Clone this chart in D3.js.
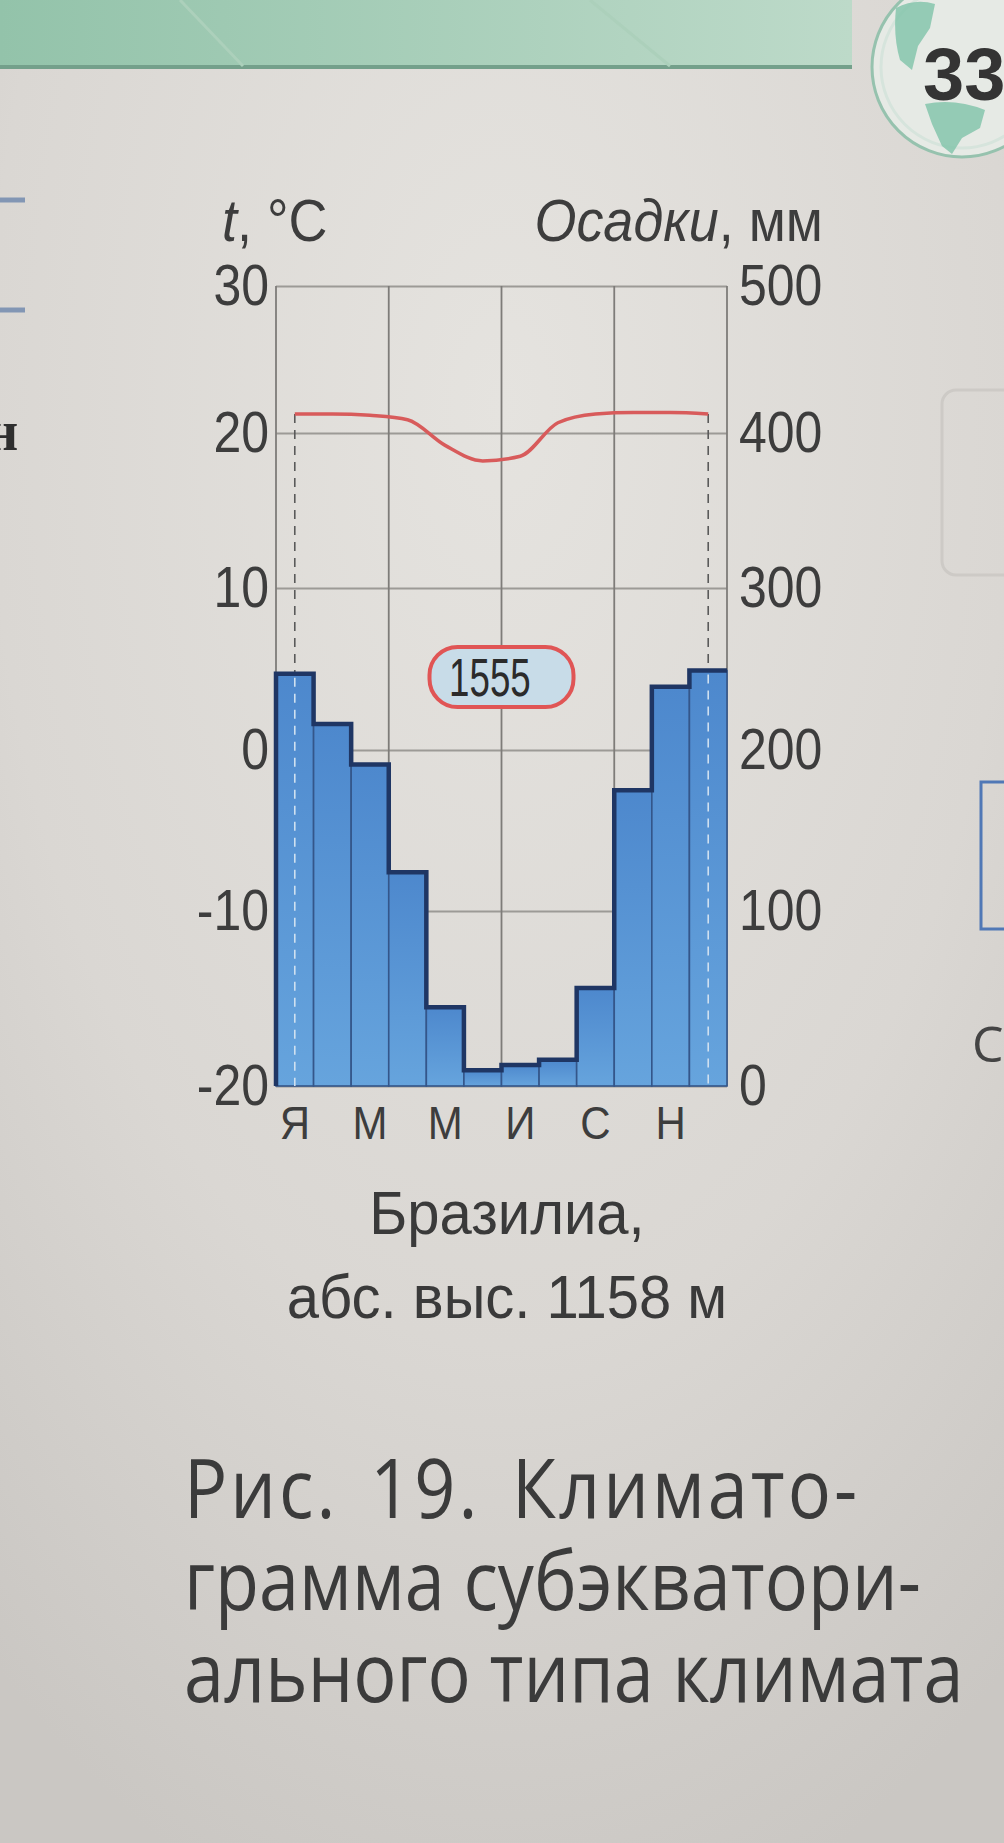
<!DOCTYPE html>
<meta charset="utf-8">
<head>
<script src="https://d3js.org/d3.v7.min.js"></script>
<style>
  body { margin: 0; background: #dcd9d4; }
  svg { display: block; }
  .tick text { font-family: "Liberation Sans", Arial, sans-serif; fill: #3d3d3d; }
</style>
</head>
<body>
<script>
"use strict";
// climatogram data, Brasilia
var months = ["Я", "Ф", "М", "А", "М", "И", "И", "А", "С", "О", "Н", "Д"];
var temperature = [21.3, 21.3, 21.2, 20.9, 19.2, 18.2, 18.5, 20.7, 21.3, 21.4, 21.4, 21.3];
var precipitation = [247, 216, 191, 124, 45, 9, 12, 15, 56, 175, 239, 249];
var tempTicks = [30, 20, 10, 0, -10, -20];
var precipTicks = [500, 400, 300, 200, 100, 0];
var annualTotal = 1555;
var station = ["Бразилиа,", "абс. выс. 1158 м"];
var caption = ["Рис. 19. Климато-", "грамма субэкватори-", "ального типа климата"];

var width = 1004, height = 1843;
var X0 = 276, X1 = 727;
// the photo is taken at an angle, so the grid rows are not evenly spaced
var rows = [286, 433, 588, 750, 911, 1086];
var Y0 = rows[0], Y1 = rows[rows.length - 1];

var svg = d3.select("body").append("svg")
    .attr("width", width)
    .attr("height", height);

var defs = svg.append("defs");
var pg = defs.append("radialGradient").attr("id", "paper")
    .attr("cx", "50%").attr("cy", "22%").attr("r", "85%");
pg.append("stop").attr("offset", "0%").attr("stop-color", "#e5e3df");
pg.append("stop").attr("offset", "60%").attr("stop-color", "#dad7d3");
pg.append("stop").attr("offset", "100%").attr("stop-color", "#cac7c3");

var bg = defs.append("linearGradient").attr("id", "barGrad")
    .attr("x1", 0).attr("y1", 0).attr("x2", 0).attr("y2", 1);
bg.append("stop").attr("offset", "0%").attr("stop-color", "#4d88cd");
bg.append("stop").attr("offset", "100%").attr("stop-color", "#66a4dd");

var hg = defs.append("linearGradient").attr("id", "band");
hg.append("stop").attr("offset", "0%").attr("stop-color", "#93c3aa");
hg.append("stop").attr("offset", "100%").attr("stop-color", "#bddac9");

// page
svg.append("rect").attr("width", width).attr("height", height).attr("fill", "url(#paper)");

// green header band
svg.append("rect").attr("x", 0).attr("y", 0).attr("width", 852).attr("height", 68)
    .attr("fill", "url(#band)");
svg.append("line").attr("x1", 0).attr("x2", 852).attr("y1", 67).attr("y2", 67)
    .attr("stroke", "#74a08b").attr("stroke-width", 4);
[[180, 243], [590, 670]].forEach(function(d) {
  svg.append("line").attr("x1", d[0]).attr("y1", 0).attr("x2", d[1]).attr("y2", 66)
      .attr("stroke", "#acd0bb").attr("stroke-width", 3);
});

// page number globe
var globe = svg.append("g");
globe.append("circle").attr("cx", 962).attr("cy", 67).attr("r", 90)
    .attr("fill", "#e6eae5").attr("stroke", "#96c2ae").attr("stroke-width", 3);
globe.append("circle").attr("cx", 962).attr("cy", 67).attr("r", 81)
    .attr("fill", "none").attr("stroke", "#d6e4dc").attr("stroke-width", 3);
globe.append("path")
    .attr("d", "M896,8 Q915,-2 935,4 L930,28 L918,46 L912,70 L900,60 Q893,36 896,8 Z")
    .attr("fill", "#80c3a9").attr("opacity", 0.8);
globe.append("path")
    .attr("d", "M925,104 Q955,98 985,110 L980,128 L962,138 L952,154 L942,146 L932,124 Z")
    .attr("fill", "#80c3a9").attr("opacity", 0.8);
globe.append("text").attr("x", 923).attr("y", 100)
    .style("font-family", "Liberation Sans, Arial, sans-serif").style("font-weight", "bold")
    .style("font-size", "74px").attr("fill", "#343434").text("33");

// bits of neighbouring columns
[200, 310].forEach(function(y) {
  svg.append("line").attr("x1", 0).attr("x2", 25).attr("y1", y).attr("y2", y)
      .attr("stroke", "#8296b4").attr("stroke-width", 5);
});
svg.append("text").attr("x", -14).attr("y", 450)
    .style("font-family", "Liberation Serif, serif").style("font-weight", "bold")
    .style("font-size", "56px").attr("fill", "#2f2f2f").text("н");
svg.append("rect").attr("x", 942).attr("y", 390).attr("width", 90).attr("height", 185).attr("rx", 14)
    .attr("fill", "none").attr("stroke", "#cdcac6").attr("stroke-width", 3);
svg.append("rect").attr("x", 981).attr("y", 782).attr("width", 40).attr("height", 147)
    .attr("fill", "none").attr("stroke", "#5078b6").attr("stroke-width", 3);
svg.append("text").attr("x", 972).attr("y", 1062)
    .style("font-family", "Open Sans, sans-serif").style("font-size", "50px")
    .attr("fill", "#444").text("С");

// scales
var x = d3.scaleBand().domain(d3.range(12)).range([X0, X1]).paddingInner(0).paddingOuter(0);
var bw = x.bandwidth();
var yT = d3.scaleLinear().domain(tempTicks).range(rows);
var yP = d3.scaleLinear().domain(precipTicks).range(rows);
var cx = function(i) { return x(i) + bw / 2; };

var chart = svg.append("g");

// horizontal grid
chart.append("g")
    .attr("transform", "translate(" + X0 + ",0)")
    .call(d3.axisLeft(yT).tickValues(tempTicks).tickSize(-(X1 - X0)).tickFormat(""))
    .call(function(g) {
      g.select(".domain").remove();
      g.selectAll(".tick line").attr("stroke", "#9c9a96").attr("stroke-width", 2);
    });

// vertical grid every quarter
chart.append("g").selectAll("line")
    .data([0, 3, 6, 9, 12])
    .enter().append("line")
      .attr("x1", function(d) { return d < 12 ? x(d) : X1; })
      .attr("x2", function(d) { return d < 12 ? x(d) : X1; })
      .attr("y1", Y0).attr("y2", Y1)
      .attr("stroke", "#7e7c79").attr("stroke-width", 1.8);

// dashed drop lines at the ends of the temperature curve
var ends = [0, 11];
chart.append("g").selectAll("line")
    .data(ends)
    .enter().append("line")
      .attr("x1", cx).attr("x2", cx)
      .attr("y1", function(i) { return yT(temperature[i]); })
      .attr("y2", function(i) { return yP(precipitation[i]); })
      .attr("stroke", "#5a5a5a").attr("stroke-width", 1.6)
      .attr("stroke-dasharray", "9,7");

// precipitation bars
chart.append("g").selectAll("rect")
    .data(precipitation)
    .enter().append("rect")
      .attr("x", function(d, i) { return x(i); })
      .attr("y", function(d) { return yP(d); })
      .attr("width", bw)
      .attr("height", function(d) { return Y1 - yP(d); })
      .attr("fill", "url(#barGrad)")
      .attr("stroke", "#34568a")
      .attr("stroke-width", 1.6);

// stepped dark outline along the bar tops
var step = "M" + X0 + "," + Y1;
precipitation.forEach(function(d, i) {
  step += "L" + x(i) + "," + yP(d) + "L" + (x(i) + bw) + "," + yP(d);
});
chart.append("path").attr("d", step)
    .attr("fill", "none").attr("stroke", "#1f3664").attr("stroke-width", 4.5)
    .attr("stroke-linejoin", "miter");

// light dashes through the end bars
chart.append("g").selectAll("line")
    .data(ends)
    .enter().append("line")
      .attr("x1", cx).attr("x2", cx)
      .attr("y1", function(i) { return yP(precipitation[i]) + 4; })
      .attr("y2", Y1)
      .attr("stroke", "#cfe0f0").attr("stroke-width", 1.6)
      .attr("stroke-dasharray", "9,7");

// temperature curve
var line = d3.line()
    .x(function(d, i) { return cx(i); })
    .y(function(d) { return yT(d); })
    .curve(d3.curveMonotoneX);
chart.append("path").datum(temperature)
    .attr("d", line)
    .attr("fill", "none").attr("stroke", "#d85b5b").attr("stroke-width", 3.5);

// annual total badge
var badge = chart.append("g").attr("transform", "translate(" + x(6) + "," + 677 + ")");
badge.append("rect").attr("x", -72).attr("y", -30).attr("width", 144).attr("height", 60).attr("rx", 28)
    .attr("fill", "#c8dce8").attr("stroke", "#e05555").attr("stroke-width", 4);
badge.append("text").attr("x", -17).attr("y", 0).attr("dy", "0.36em")
    .attr("text-anchor", "middle")
    .attr("transform", "scale(0.68,1)")
    .style("font-family", "Liberation Sans, Arial, sans-serif")
    .style("font-size", "54px").attr("fill", "#2b2b2b")
    .text(annualTotal);

// axes labels (hyphen minus, as printed)
chart.append("g")
    .attr("transform", "translate(" + X0 + ",0)")
    .call(d3.axisLeft(yT).tickValues(tempTicks).tickSize(0).tickPadding(7).tickFormat(String))
    .call(function(g) {
      g.select(".domain").remove();
      g.selectAll("text").style("font-size", "50px").attr("transform", "scale(1,1.15)");
    });
chart.append("g")
    .attr("transform", "translate(" + X1 + ",0)")
    .call(d3.axisRight(yP).tickValues(precipTicks).tickSize(0).tickPadding(12).tickFormat(String))
    .call(function(g) {
      g.select(".domain").remove();
      g.selectAll("text").style("font-size", "50px").attr("transform", "scale(1,1.15)");
    });

var font = "Liberation Sans, Arial, sans-serif";
var tl = chart.append("text").attr("transform", "translate(222,241) scale(1,1.1)")
    .style("font-family", font).style("font-size", "54px").attr("fill", "#3d3d3d");
tl.append("tspan").style("font-style", "italic").text("t");
tl.append("tspan").text(", °C");
var tr = chart.append("text").attr("transform", "translate(823,241) scale(1,1.1)")
    .attr("text-anchor", "end")
    .style("font-family", font).style("font-size", "54px").attr("fill", "#3d3d3d");
tr.append("tspan").style("font-style", "italic").text("Осадки");
tr.append("tspan").text(", мм");

// month letters, every second month
chart.append("g").selectAll("text")
    .data(months.filter(function(d, i) { return i % 2 === 0; }))
    .enter().append("text")
      .attr("transform", function(d, i) { return "translate(" + cx(i * 2) + ",1139) scale(1,1.1)"; })
      .attr("text-anchor", "middle")
      .style("font-family", font).style("font-size", "42px")
      .attr("fill", "#3d3d3d")
      .text(function(d) { return d; });

// station
svg.append("g").selectAll("text")
    .data(station)
    .enter().append("text")
      .attr("transform", function(d, i) { return "translate(507," + (1234 + i * 84) + ") scale(1,1.05)"; })
      .attr("text-anchor", "middle")
      .style("font-family", font).style("font-size", "58px")
      .attr("fill", "#3a3a3a")
      .text(function(d) { return d; });

// figure caption
svg.append("g").selectAll("text")
    .data(caption)
    .enter().append("text")
      .attr("transform", function(d, i) { return "translate(184," + (1518 + i * 92) + ") scale(1,1.15)"; })
      .style("font-family", "Open Sans, Noto Sans, sans-serif").style("font-size", "72px")
      .style("letter-spacing", function(d, i) { return i === 0 ? "3px" : "0px"; })
      .style("word-spacing", function(d, i) { return i === 0 ? "10px" : "0px"; })
      .attr("fill", "#3b3b3b")
      .text(function(d) { return d; });
</script>
</body>
